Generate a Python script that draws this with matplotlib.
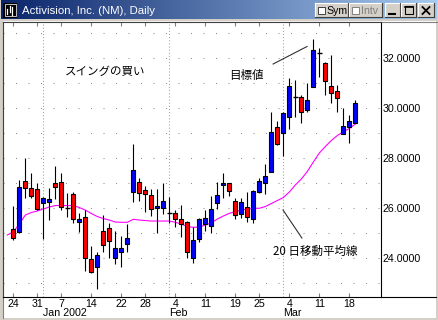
import numpy as np
import pandas as pd
import matplotlib
matplotlib.use('Agg')
import matplotlib.pyplot as plt
from matplotlib.patches import Rectangle
from matplotlib.colors import LinearSegmentedColormap
from matplotlib.transforms import blended_transform_factory

# trading days shown (Dec 24 2001 .. Mar 19 2002)
holidays = ['2001-12-25', '2002-01-01', '2002-01-21', '2002-02-18']
dates = pd.bdate_range('2001-12-24', '2002-03-19')
dates = dates[~dates.isin(pd.to_datetime(holidays))]

opens = [25.16, 25.03, 27.07, 26.79, 26.75, 26.19, 26.23, 26.99, 27.03, 26.02,
         26.55, 25.45, 25.63, 23.95, 23.63, 25.07, 25.19, 23.99, 24.25, 24.55,
         26.65, 27.03, 26.71, 26.51, 25.99, 26.01, 25.81, 25.79, 25.55, 25.43,
         24.01, 24.75, 25.35, 25.29, 26.19, 26.92, 26.99, 26.29, 25.76, 26.03,
         25.55, 26.63, 27.01, 27.43, 29.23, 28.99, 29.63, 30.45, 30.45, 29.92,
         30.83, 32.19, 31.79, 30.88, 30.69, 28.95, 29.25, 29.39]
highs = [26.08, 27.12, 28.00, 27.39, 26.99, 26.45, 26.79, 27.68, 27.39, 26.60,
         26.65, 25.79, 25.92, 24.48, 24.24, 25.71, 25.39, 25.08, 24.88, 25.36,
         28.56, 27.19, 26.88, 26.75, 26.75, 27.01, 26.45, 25.92, 26.11, 25.49,
         25.23, 25.59, 25.92, 26.48, 27.03, 27.41, 27.02, 26.41, 26.39, 26.65,
         26.72, 27.19, 27.76, 29.85, 29.49, 29.85, 31.21, 31.12, 30.52, 31.01,
         32.75, 32.39, 31.85, 32.12, 30.92, 29.99, 29.72, 30.32]
lows = [24.72, 25.00, 26.39, 26.39, 25.92, 24.76, 25.52, 26.35, 25.92, 25.65,
        25.39, 25.05, 23.49, 23.41, 22.75, 24.23, 23.99, 23.76, 23.65, 24.25,
        26.25, 26.28, 25.85, 25.68, 25.00, 25.75, 25.41, 25.25, 24.85, 24.01,
        23.81, 24.65, 25.09, 24.99, 25.96, 26.39, 26.48, 25.55, 25.59, 25.45,
        25.41, 26.59, 26.56, 27.43, 28.52, 28.09, 29.15, 29.65, 29.39, 29.85,
        30.83, 31.25, 30.52, 30.19, 29.85, 28.95, 28.59, 29.39]
closes = [24.81, 26.83, 26.79, 26.47, 25.97, 26.39, 26.35, 26.83, 26.03, 26.02,
          25.55, 25.55, 23.99, 23.45, 24.11, 24.51, 24.69, 24.39, 24.39, 24.79,
          27.51, 26.59, 26.55, 25.97, 26.08, 26.28, 25.81, 25.55, 25.35, 24.25,
          24.72, 25.55, 25.59, 25.95, 26.52, 27.01, 26.68, 25.72, 26.25, 25.63,
          26.69, 27.09, 27.28, 29.03, 28.55, 29.81, 30.88, 30.45, 29.85, 30.32,
          32.32, 32.19, 31.09, 30.59, 30.41, 29.28, 29.48, 30.19]
# 20-day moving average as drawn; first value belongs to the day before Dec 24
ma20 = [24.92, 25.05, 25.36, 25.72, 25.82, 25.88, 25.96, 26.04, 26.10, 26.10,
        26.10, 26.10, 26.02, 25.92, 25.78, 25.66, 25.58, 25.52, 25.44, 25.43,
        25.43, 25.55, 25.52, 25.50, 25.48, 25.48, 25.48, 25.48, 25.43, 25.36,
        25.26, 25.23, 25.24, 25.32, 25.41, 25.56, 25.68, 25.79, 25.85, 25.92,
        25.96, 25.99, 25.99, 26.06, 26.18, 26.30, 26.42, 26.64, 26.92, 27.16,
        27.46, 27.84, 28.20, 28.46, 28.70, 28.90, 29.05, 29.18, 29.36]

price_ticks = [24, 26, 28, 30, 32]
title = 'Activision, Inc. (NM), Daily'
note_buy = 'スイングの買い'
note_target = '目標値'
note_ma = '20 日移動平均線'

jp = ['Noto Sans CJK JP', 'DejaVu Sans']
lat = 'Liberation Sans'
face = '#d4d0c8'

W, H = 438, 320
fig = plt.figure(figsize=(W / 100, H / 100), dpi=100, facecolor=face)

# ---- window chrome (pixel coordinates)
chrome = fig.add_axes([0, 0, 1, 1])
tb = LinearSegmentedColormap.from_list('tb', ['#0a246a', '#a6caf0'])
chrome.imshow(np.linspace(0, 1, 256).reshape(1, -1), cmap=tb,
              extent=[1, 437, 19.5, 1], aspect='auto')
chrome.set_xlim(0, W)
chrome.set_ylim(H, 0)
chrome.axis('off')

chrome.add_patch(Rectangle((3, 21), 433, 297, facecolor='white', edgecolor='none'))
chrome.plot([2.5, 436.5], [21.5, 21.5], color='#808080', lw=0.8)
chrome.plot([2.5, 2.5], [21.5, 318], color='#808080', lw=0.8)

# icon
chrome.add_patch(Rectangle((3, 2.5), 14, 15, facecolor='black', edgecolor='none'))
chrome.add_patch(Rectangle((4.5, 4), 11, 12, facecolor='none', edgecolor='#e0e0e0', lw=0.6))
for xi, y0, y1 in [(7, 9, 14), (9.5, 6, 12), (12, 7, 15)]:
    chrome.plot([xi, xi], [y0, y1], color='white', lw=0.9)
chrome.text(22, 10.5, title, color='white', fontsize=8.2, family=lat, va='center')


def button(x0, x1, y0=3, y1=17):
    chrome.add_patch(Rectangle((x0, y0), x1 - x0, y1 - y0, facecolor=face, edgecolor='none'))
    chrome.plot([x0, x1], [y0, y0], color='white', lw=0.8)
    chrome.plot([x0, x0], [y0, y1], color='white', lw=0.8)
    chrome.plot([x0, x1], [y1, y1], color='#404040', lw=0.8)
    chrome.plot([x1, x1], [y0, y1], color='#404040', lw=0.8)


button(315, 348)
chrome.add_patch(Rectangle((317.5, 6.5), 7, 7, facecolor='white', edgecolor='#404040', lw=0.7))
chrome.text(326.5, 10.5, 'Sym', fontsize=7.6, family=lat, va='center')
button(349, 382)
chrome.add_patch(Rectangle((351.5, 6.5), 7, 7, facecolor='white', edgecolor='#808080', lw=0.7))
chrome.text(361, 10.5, 'Intv', fontsize=7.6, family=lat, va='center', color='#808080')
button(385, 400)
chrome.plot([389, 395], [14, 14], color='black', lw=1.5)
button(401, 416)
chrome.add_patch(Rectangle((404.5, 6), 8, 8, facecolor='none', edgecolor='black', lw=0.8))
chrome.plot([404.5, 412.5], [6.5, 6.5], color='black', lw=1.2)
button(418, 434)
chrome.plot([422.5, 429.5], [7, 14], color='black', lw=1.3)
chrome.plot([422.5, 429.5], [14, 7], color='black', lw=1.3)

# line under the price scale
chrome.plot([380.7, 435.5], [297.3, 297.3], color='black', lw=0.8)

# ---- price chart
ax = fig.add_axes([3 / W, 1 - 297.3 / H, (380.7 - 3) / W, (297.3 - 22) / H])
ax.set_facecolor('white')
x = np.arange(len(dates))
ax.set_xlim(-1.72, 61.23)
ax.set_ylim(22.43, 33.44)

for v in range(23, 34):
    ax.axhline(v, color='#909090', lw=0.75, ls=(0, (1, 11)), zorder=0)

month_start = [i for i in range(1, len(dates)) if dates[i].month != dates[i - 1].month]
for i in month_start:
    ax.axvline(i, color='#a0a0a0', lw=0.75, ls=(0, (1, 2)), zorder=0)

ax.plot(np.arange(-1, len(dates)), ma20, color='#ff00ff', lw=0.8, zorder=2)

o, h, l, c = map(np.array, (opens, highs, lows, closes))
up, down, flat = c > o, c < o, c == o
ax.vlines(x, l, h, color='black', lw=0.8, zorder=3)
ax.bar(x[up], (c - o)[up], bottom=o[up], width=0.72, color='#0000ff',
       edgecolor='black', lw=0.8, zorder=4)
ax.bar(x[down], (o - c)[down], bottom=c[down], width=0.72, color='#ff0000',
       edgecolor='black', lw=0.8, zorder=4)
ax.hlines(o[flat], x[flat] - 0.4, x[flat] + 0.4, color='black', lw=1, zorder=4)

# week ticks (first trading day of each week)
week = dates.isocalendar().week.values
week_start = [0] + [i for i in range(1, len(dates)) if week[i] != week[i - 1]]
ax.set_xticks(week_start)
ax.set_xticklabels([str(dates[i].day) for i in week_start], fontsize=7.7, family=lat)
ax.tick_params(axis='x', direction='in', length=3, color='#808080', top=True, pad=1.5)

trans = blended_transform_factory(ax.transData, ax.transAxes)
for i in month_start:
    d = dates[i]
    lab = d.strftime('%b') + (f' {d.year}' if d.month == 1 else '')
    ax.text(i, -0.058, lab, transform=trans, fontsize=7.7, family=lat,
            ha='left', va='center')

ax.yaxis.tick_right()
ax.set_yticks(price_ticks)
ax.set_yticklabels([f'{v:.4f}' for v in price_ticks], fontsize=7.7, family=lat)
ax.tick_params(axis='y', length=0, pad=1.5)

for s in ['left', 'top']:
    ax.spines[s].set_color('#404040')
    ax.spines[s].set_linewidth(0.8)
for s in ['right', 'bottom']:
    ax.spines[s].set_color('black')
    ax.spines[s].set_linewidth(0.8)

# notes
ax.text(8.6, 31.45, note_buy, fontsize=8.3, family=jp, va='center', ha='left')
ax.text(35.95, 31.32, note_target, fontsize=8.3, family=jp, va='center', ha='left')
ax.text(43.2, 24.25, note_ma, fontsize=8.3, family=jp, va='center', ha='left')
ax.plot([43.3, 48.95], [31.76, 32.46], color='#303030', lw=0.8)
ax.plot([44.95, 48.1], [25.92, 24.8], color='#303030', lw=0.8)

fig.savefig('out.png', dpi=100, facecolor=fig.get_facecolor())
